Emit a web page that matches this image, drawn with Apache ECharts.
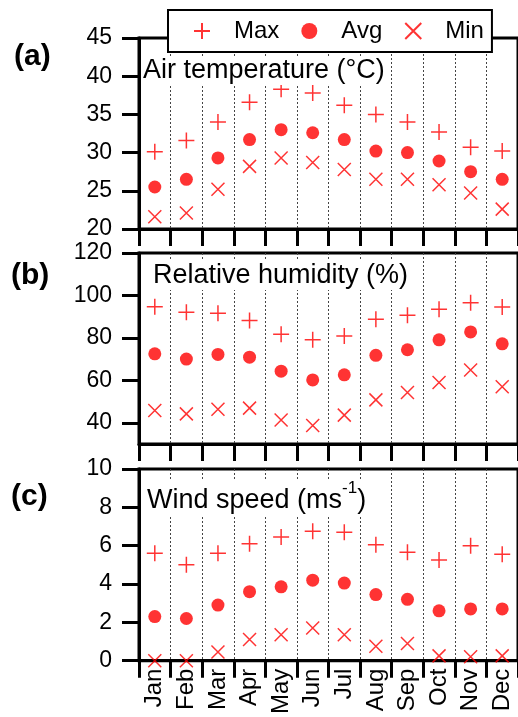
<!DOCTYPE html>
<html>
<head>
<meta charset="utf-8">
<script src="https://cdn.jsdelivr.net/npm/echarts@6/dist/echarts.min.js"></script>
<style>
  html, body { margin: 0; padding: 0; background: #fff; }
  #main { width: 518px; height: 717px; }
</style>
</head>
<body>
<div id="main"></div>
<script>
var months = ['Jan', 'Feb', 'Mar', 'Apr', 'May', 'Jun', 'Jul', 'Aug', 'Sep', 'Oct', 'Nov', 'Dec'];

// (a) air temperature, °C
var tempMax = [30.1, 31.6, 34.0, 36.6, 38.3, 37.8, 36.2, 35.0, 34.0, 32.7, 30.7, 30.2];
var tempAvg = [25.5, 26.5, 29.3, 31.7, 33.0, 32.6, 31.7, 30.2, 30.0, 28.9, 27.5, 26.5];
var tempMin = [21.6, 22.1, 25.2, 28.2, 29.3, 28.7, 27.8, 26.5, 26.5, 25.8, 24.7, 22.6];

// (b) relative humidity, %
var rhMax = [94.7, 92.1, 91.6, 88.2, 81.7, 79.1, 80.9, 88.8, 90.7, 93.5, 96.6, 94.6];
var rhAvg = [72.5, 70.0, 72.2, 70.9, 64.3, 60.2, 62.6, 71.8, 74.4, 79.1, 82.8, 77.2];
var rhMin = [45.8, 44.2, 46.4, 46.9, 41.3, 38.7, 43.6, 50.8, 54.3, 59.0, 64.9, 57.0];

// (c) wind speed, m/s
var wsMax = [5.6, 5.0, 5.6, 6.1, 6.45, 6.75, 6.7, 6.05, 5.65, 5.25, 6.0, 5.55];
var wsAvg = [2.3, 2.2, 2.9, 3.6, 3.85, 4.2, 4.05, 3.45, 3.2, 2.6, 2.7, 2.7];
var wsMin = [0, 0, 0.45, 1.1, 1.35, 1.7, 1.35, 0.75, 0.9, 0.25, 0.2, 0.25];

var rhTicks = [40, 60, 80, 100, 120];

var myChart = echarts.init(document.getElementById('main'));
var FONT = 'Liberation Sans, Arial, sans-serif';
var RED = '#ff0000';

var plusPath = 'path://M0,-1L0,1M-1,0L1,0';
var crossPath = 'path://M-1,-1L1,1M-1,1L1,-1';

var grids = [
    { left: 139, top: 38, width: 384, height: 191 },
    { left: 139, top: 253, width: 384, height: 191 },
    { left: 139, top: 469, width: 384, height: 192 }
];

function makeX(i) {
    return {
        type: 'category',
        gridIndex: i,
        data: months,
        boundaryGap: true,
        axisLine: { show: true, lineStyle: { color: '#000', width: 3 } },
        axisTick: { show: true, inside: false, length: 17, lineStyle: { color: '#000', width: 3 } },
        axisLabel: {
            show: i === 2,
            rotate: 90,
            margin: 8,
            color: '#000',
            fontSize: 24,
            fontFamily: FONT
        },
        splitLine: {
            show: true,
            lineStyle: { color: '#444', width: 1, type: [2, 2] }
        }
    };
}

function makeY(i, min, max, interval) {
    return {
        type: 'value',
        gridIndex: i,
        min: min,
        max: max,
        interval: interval,
        axisLine: { show: true, lineStyle: { color: '#000', width: 3 } },
        axisTick: { show: true, inside: false, length: 17, lineStyle: { color: '#000', width: 3 } },
        axisLabel: { color: '#000', fontSize: 23, margin: 27, fontFamily: FONT },
        splitLine: { show: false }
    };
}

var yB = makeY(1, 30, 120, 10);
yB.axisLabel.customValues = rhTicks;
yB.axisTick.customValues = rhTicks;

function triple(i, maxV, avgV, minV) {
    var base = { type: 'scatter', xAxisIndex: i, yAxisIndex: i, symbolKeepAspect: true };
    return [
        Object.assign({}, base, {
            name: 'Max', data: maxV, symbol: plusPath, symbolSize: 16,
            itemStyle: { color: RED, borderColor: RED, borderWidth: 1.5 }
        }),
        Object.assign({}, base, {
            name: 'Avg', data: avgV, symbol: 'circle', symbolSize: 13,
            itemStyle: { color: RED }
        }),
        Object.assign({}, base, {
            name: 'Min', data: minV, symbol: crossPath, symbolSize: 13,
            itemStyle: { color: RED, borderColor: RED, borderWidth: 1.5 }
        })
    ];
}

function panelTitle(text, left, top) {
    return {
        text: text,
        left: left,
        top: top,
        padding: [1, 2],
        backgroundColor: '#fff',
        textStyle: {
            color: '#000',
            fontSize: 27,
            fontWeight: 'normal',
            fontFamily: FONT,
            rich: {
                t: { fontSize: 27, lineHeight: 34, verticalAlign: 'bottom', color: '#000', fontFamily: FONT },
                sup: { fontSize: 17, lineHeight: 18, verticalAlign: 'top', color: '#000', fontFamily: FONT }
            }
        }
    };
}

option = {
    backgroundColor: '#fff',
    animation: false,
    title: [
        panelTitle('Air temperature (°C)', 141, 56),
        panelTitle('Relative humidity (%)', 151, 261),
        panelTitle('{t|Wind speed (ms}{sup|-1}{t|)}', 145, 479)
    ],
    legend: {
        left: 168,
        top: 10,
        data: ['Max', 'Avg', 'Min'],
        backgroundColor: '#fff',
        borderColor: '#000',
        borderWidth: 2,
        padding: [9, 8, 9, 25],
        itemWidth: 16,
        itemHeight: 16,
        itemGap: 22,
        selectedMode: false,
        textStyle: { color: '#000', fontSize: 24, fontFamily: FONT, padding: [0, 0, 0, 19] }
    },
    graphic: [
        { type: 'text', left: 14, top: 42, style: { text: '(a)', fontSize: 30, fontWeight: 'bold', fontFamily: FONT, fill: '#000' } },
        { type: 'text', left: 11, top: 261, style: { text: '(b)', fontSize: 30, fontWeight: 'bold', fontFamily: FONT, fill: '#000' } },
        { type: 'text', left: 11, top: 482, style: { text: '(c)', fontSize: 30, fontWeight: 'bold', fontFamily: FONT, fill: '#000' } }
    ],
    grid: grids.map(function (g) {
        return Object.assign({ show: true, borderColor: '#000', borderWidth: 3, backgroundColor: 'transparent' }, g);
    }),
    xAxis: [makeX(0), makeX(1), makeX(2)],
    yAxis: [makeY(0, 20, 45, 5), yB, makeY(2, 0, 10, 2)],
    series: [].concat(
        triple(0, tempMax, tempAvg, tempMin),
        triple(1, rhMax, rhAvg, rhMin),
        triple(2, wsMax, wsAvg, wsMin)
    )
};

myChart.setOption(option);
</script>
</body>
</html>
